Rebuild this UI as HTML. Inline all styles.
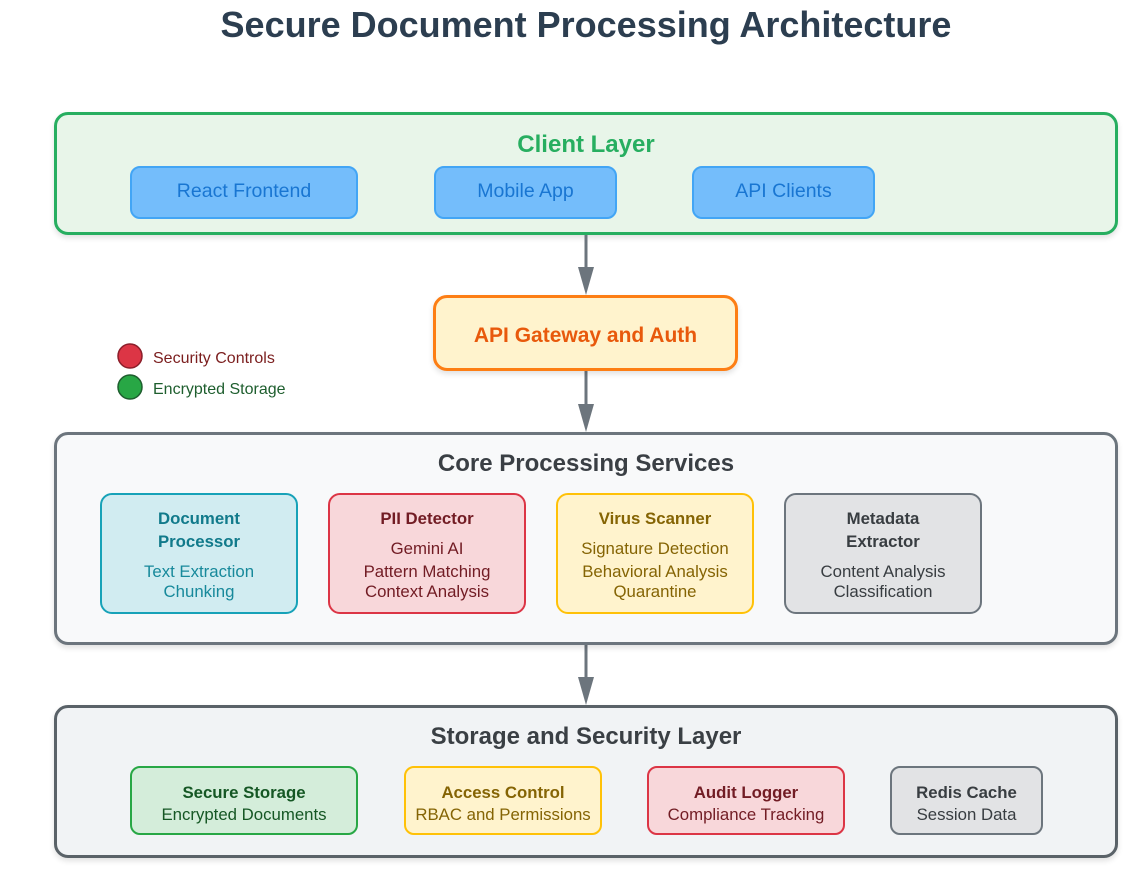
<!DOCTYPE html>
<html><head><meta charset="utf-8"><style>
body{margin:0;width:1142px;height:882px;background:#fff;position:relative;overflow:hidden;font-family:"Liberation Sans",Arial,sans-serif}
.a{position:absolute;box-sizing:border-box}
.t{position:absolute;height:24px;line-height:24px;text-align:center;white-space:nowrap;transform:translateY(-10px)}
.b{font-weight:bold}
.c{font-size:16.8px}
</style></head><body>
<div class="t b" style="left:0;width:1172px;top:24px;font-size:36px;height:40px;line-height:40px;transform:translateY(-19px);color:#2c3e50">Secure Document Processing Architecture</div>

<div class="a" style="left:54px;top:112px;width:1064px;height:123px;border:3px solid #27ae60;background:#e8f5e9;border-radius:14px;box-shadow:0 3px 6px rgba(0,0,0,.12)"></div>
<div class="t b" style="left:54px;width:1064px;top:143px;font-size:24px;color:#27ae60">Client Layer</div>
<div class="a" style="left:130px;top:166px;width:228px;height:53px;background:#74bdfb;border:2px solid #42a5f5;border-radius:10px"></div>
<div class="t" style="left:130px;width:228px;top:189px;font-size:19.5px;color:#1976d2">React Frontend</div>
<div class="a" style="left:434px;top:166px;width:183px;height:53px;background:#74bdfb;border:2px solid #42a5f5;border-radius:10px"></div>
<div class="t" style="left:434px;width:183px;top:189px;font-size:19.5px;color:#1976d2">Mobile App</div>
<div class="a" style="left:692px;top:166px;width:183px;height:53px;background:#74bdfb;border:2px solid #42a5f5;border-radius:10px"></div>
<div class="t" style="left:692px;width:183px;top:189px;font-size:19.5px;color:#1976d2">API Clients</div>

<svg class="a" style="left:0;top:0" width="1142" height="882">
<g stroke="#6c757d" stroke-width="3"><line x1="586" y1="235" x2="586" y2="270"/><line x1="586" y1="371" x2="586" y2="406"/><line x1="586" y1="645" x2="586" y2="680"/></g>
<g fill="#6c757d"><polygon points="578,267 594,267 586,295"/><polygon points="578,404 594,404 586,432"/><polygon points="578,677 594,677 586,705"/></g>
<circle cx="130" cy="356" r="12" fill="#dc3545" stroke="#8b1e2a" stroke-width="1.5"/>
<circle cx="130" cy="387" r="12" fill="#28a745" stroke="#1e5e2e" stroke-width="1.5"/>
</svg>
<div class="t" style="left:153px;top:357px;font-size:16px;color:#7b1e1e;text-align:left">Security Controls</div>
<div class="t" style="left:153px;top:388px;font-size:16px;color:#1e5e2e;text-align:left">Encrypted Storage</div>

<div class="a" style="left:433px;top:295px;width:305px;height:76px;background:#fff3cd;border:3px solid #fd7e14;border-radius:14px;box-shadow:0 3px 6px rgba(0,0,0,.12)"></div>
<div class="t b" style="left:433px;width:305px;top:334px;font-size:21px;color:#e8590c">API Gateway and Auth</div>

<div class="a" style="left:54px;top:432px;width:1064px;height:213px;border:3px solid #6c757d;background:#f8f9fa;border-radius:14px;box-shadow:0 3px 6px rgba(0,0,0,.12)"></div>
<div class="t b" style="left:54px;width:1064px;top:462px;font-size:24px;color:#3a3f44">Core Processing Services</div>

<div class="a" style="left:100px;top:493px;width:198px;height:121px;background:#d1ecf1;border:2px solid #17a2b8;border-radius:12px"></div>
<div class="t b c" style="left:100px;width:198px;top:517px;color:#117a8b">Document</div>
<div class="t b c" style="left:100px;width:198px;top:540px;color:#117a8b">Processor</div>
<div class="t c" style="left:100px;width:198px;top:570px;color:#17899b">Text Extraction</div>
<div class="t c" style="left:100px;width:198px;top:590px;color:#17899b">Chunking</div>

<div class="a" style="left:328px;top:493px;width:198px;height:121px;background:#f8d7da;border:2px solid #dc3545;border-radius:12px"></div>
<div class="t b c" style="left:328px;width:198px;top:517px;color:#721c24">PII Detector</div>
<div class="t c" style="left:328px;width:198px;top:547px;color:#721c24">Gemini AI</div>
<div class="t c" style="left:328px;width:198px;top:570px;color:#721c24">Pattern Matching</div>
<div class="t c" style="left:328px;width:198px;top:590px;color:#721c24">Context Analysis</div>

<div class="a" style="left:556px;top:493px;width:198px;height:121px;background:#fff3cd;border:2px solid #ffc107;border-radius:12px"></div>
<div class="t b c" style="left:556px;width:198px;top:517px;color:#856404">Virus Scanner</div>
<div class="t c" style="left:556px;width:198px;top:547px;color:#856404">Signature Detection</div>
<div class="t c" style="left:556px;width:198px;top:570px;color:#856404">Behavioral Analysis</div>
<div class="t c" style="left:556px;width:198px;top:590px;color:#856404">Quarantine</div>

<div class="a" style="left:784px;top:493px;width:198px;height:121px;background:#e2e3e5;border:2px solid #6c757d;border-radius:12px"></div>
<div class="t b c" style="left:784px;width:198px;top:517px;color:#383d41">Metadata</div>
<div class="t b c" style="left:784px;width:198px;top:540px;color:#383d41">Extractor</div>
<div class="t c" style="left:784px;width:198px;top:570px;color:#383d41">Content Analysis</div>
<div class="t c" style="left:784px;width:198px;top:590px;color:#383d41">Classification</div>

<div class="a" style="left:54px;top:705px;width:1064px;height:153px;border:3px solid #5a6268;background:#f1f3f5;border-radius:14px;box-shadow:0 3px 6px rgba(0,0,0,.12)"></div>
<div class="t b" style="left:54px;width:1064px;top:735px;font-size:24px;color:#3a3f44">Storage and Security Layer</div>

<div class="a" style="left:130px;top:766px;width:228px;height:69px;background:#d4edda;border:2px solid #28a745;border-radius:10px"></div>
<div class="t b c" style="left:130px;width:228px;top:791px;color:#155724">Secure Storage</div>
<div class="t c" style="left:130px;width:228px;top:813px;color:#155724">Encrypted Documents</div>

<div class="a" style="left:404px;top:766px;width:198px;height:69px;background:#fff3cd;border:2px solid #ffc107;border-radius:10px"></div>
<div class="t b c" style="left:404px;width:198px;top:791px;color:#856404">Access Control</div>
<div class="t c" style="left:404px;width:198px;top:813px;color:#856404">RBAC and Permissions</div>

<div class="a" style="left:647px;top:766px;width:198px;height:69px;background:#f8d7da;border:2px solid #dc3545;border-radius:10px"></div>
<div class="t b c" style="left:647px;width:198px;top:791px;color:#721c24">Audit Logger</div>
<div class="t c" style="left:647px;width:198px;top:813px;color:#721c24">Compliance Tracking</div>

<div class="a" style="left:890px;top:766px;width:153px;height:69px;background:#e2e3e5;border:2px solid #6c757d;border-radius:10px"></div>
<div class="t b c" style="left:890px;width:153px;top:791px;color:#383d41">Redis Cache</div>
<div class="t c" style="left:890px;width:153px;top:813px;color:#383d41">Session Data</div>
</body></html>
